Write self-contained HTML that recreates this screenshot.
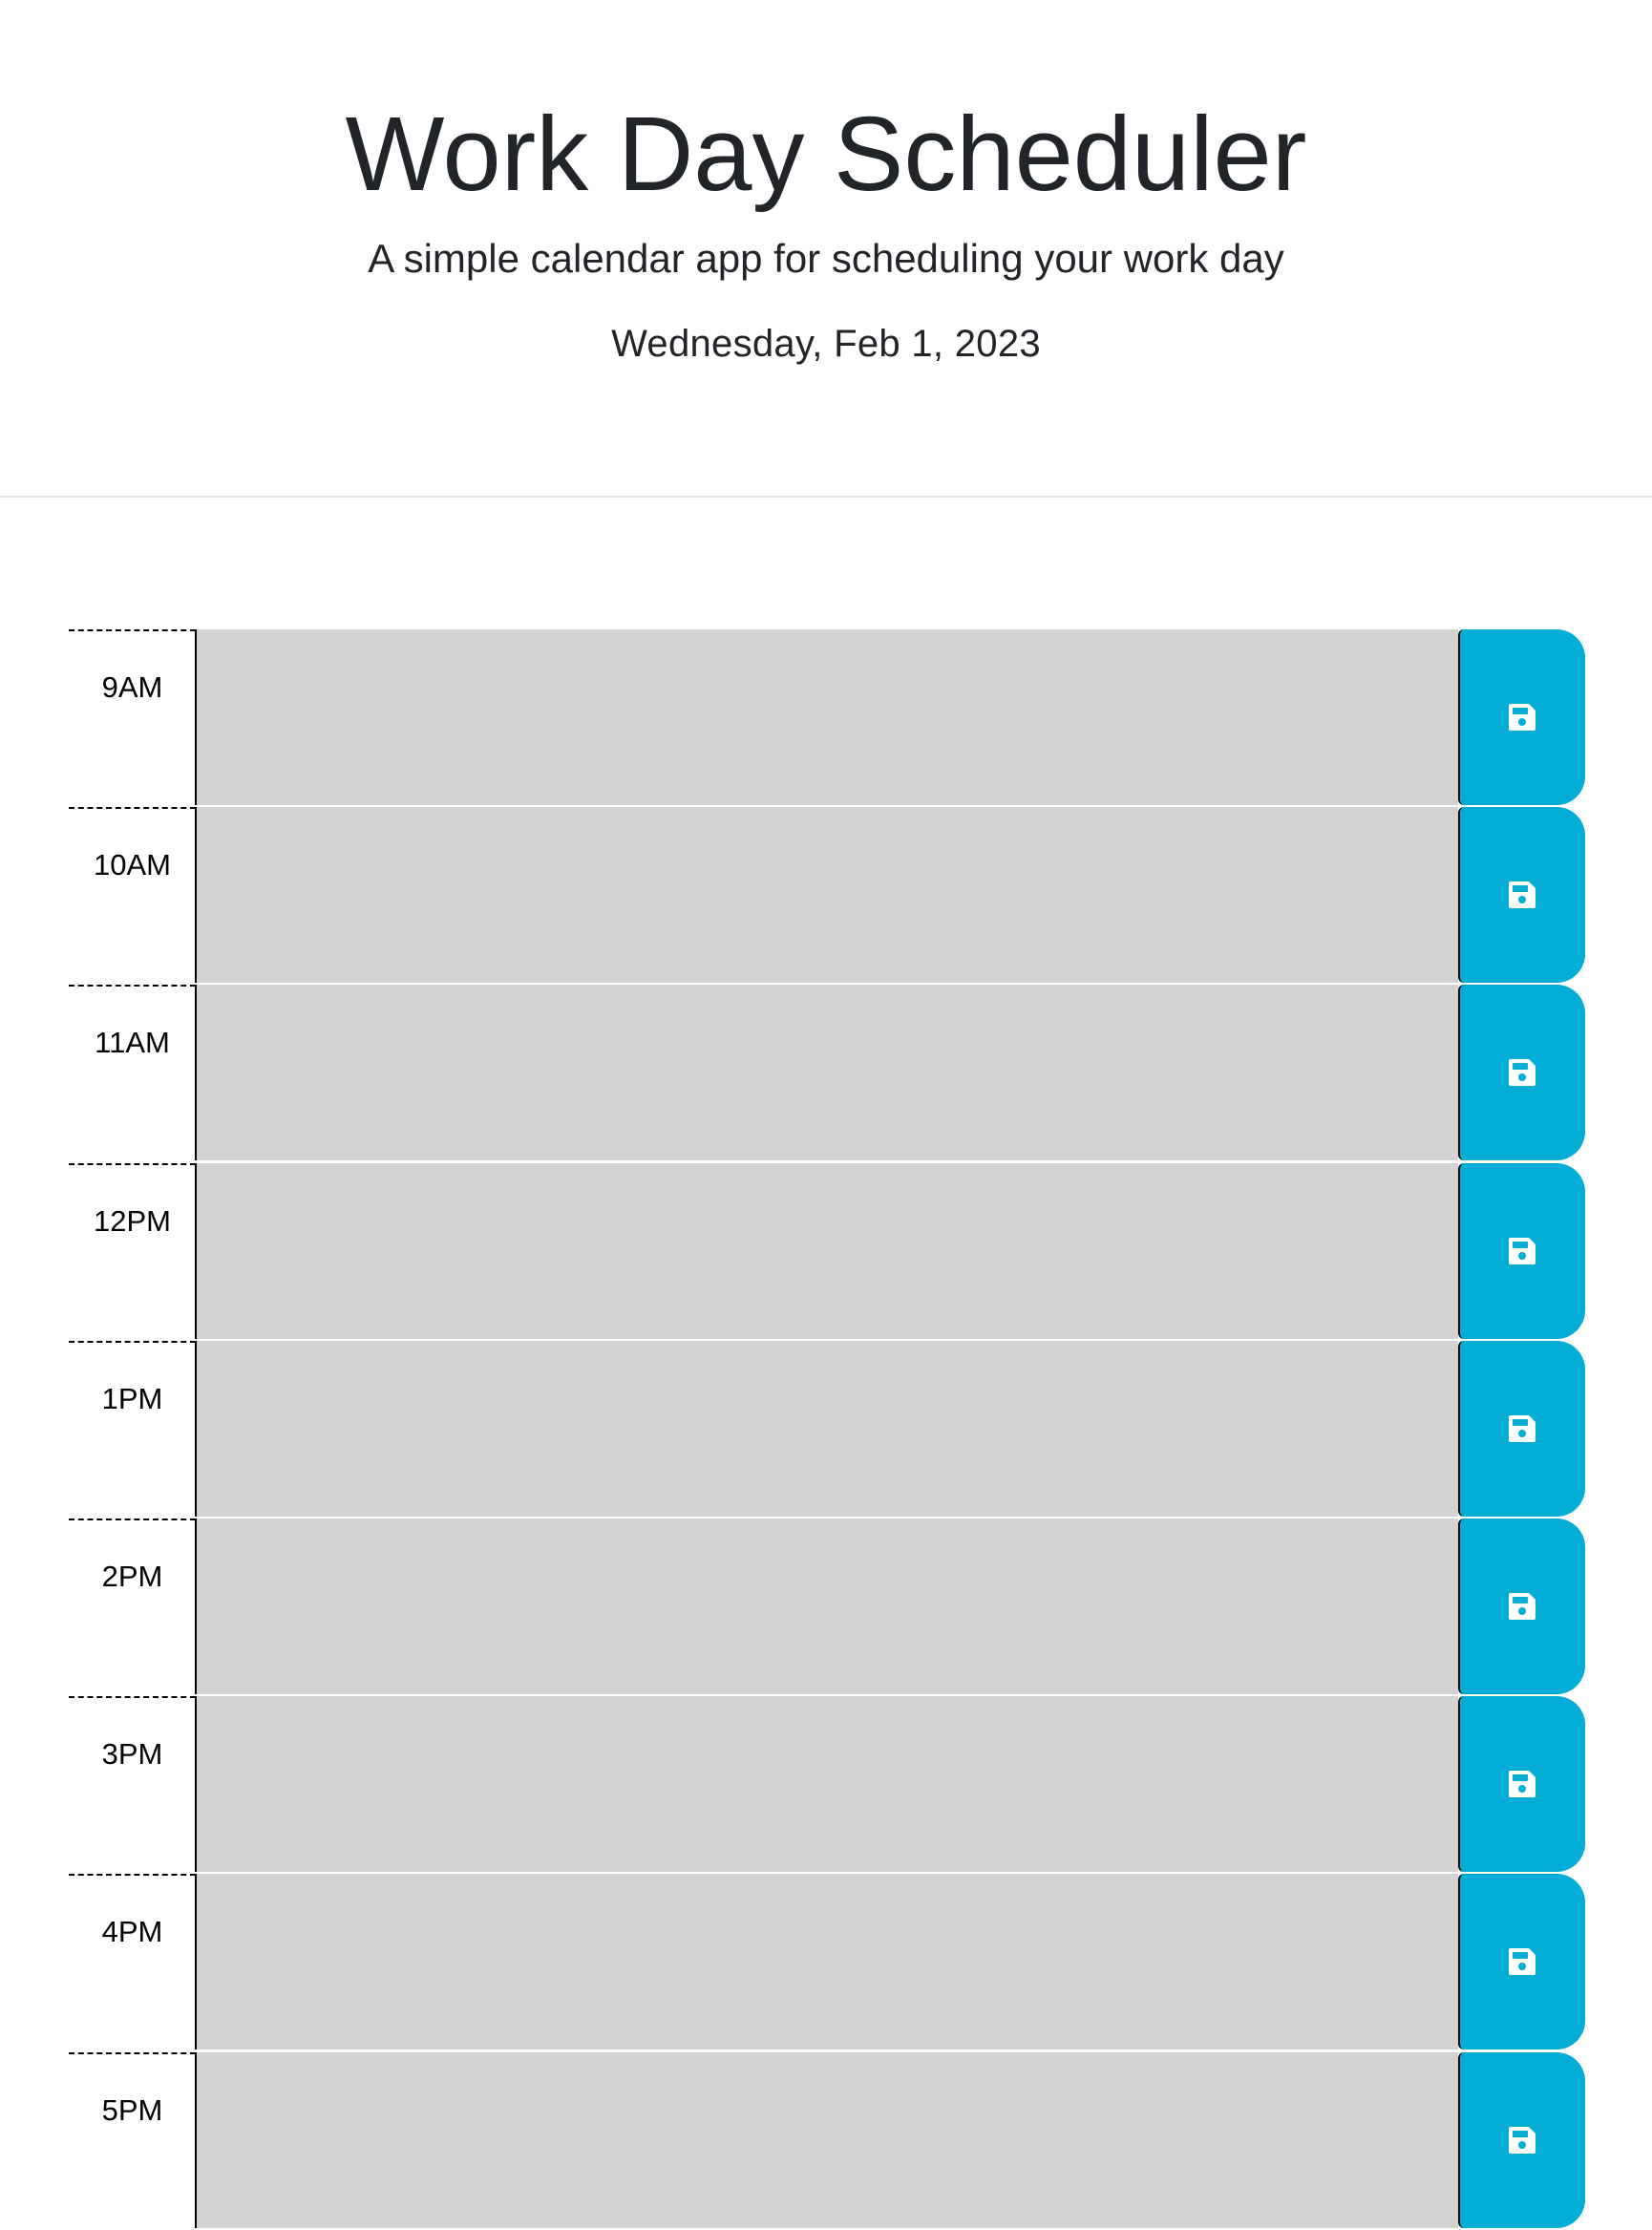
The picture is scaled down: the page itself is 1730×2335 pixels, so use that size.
<!DOCTYPE html>
<html><head><meta charset="utf-8"><style>
body{margin:0;width:1730px;height:2330px;overflow:hidden;background:#fff;font-family:"Liberation Sans",sans-serif;color:#212529;position:relative}
.t{position:absolute;left:0;width:1730px;text-align:center;white-space:nowrap}
.row{position:absolute;left:72px;width:1588px;height:186px}
.hour{position:absolute;left:0;top:0;width:133px;height:186px;border-top:2px dashed #000;box-sizing:border-box;text-align:center;font-size:31px;color:#000;padding-top:41px}
.ta{position:absolute;left:132px;top:0;width:1323px;height:184px;background:#d3d3d3;border-left:2px solid #000;box-sizing:border-box}
.btn{position:absolute;left:1455px;top:0;width:133px;height:184px;background:#04add6;border-left:2px solid #000;box-sizing:border-box;border-radius:6px 30px 30px 6px}
.btn svg{position:absolute;left:51px;top:78px}
</style></head><body>
<div class="t" style="top:97px;font-size:110px;line-height:130px">Work Day Scheduler</div>
<div class="t" style="top:244px;font-size:42px;line-height:54px">A simple calendar app for scheduling your work day</div>
<div class="t" style="top:334px;font-size:40px;line-height:52px;letter-spacing:0.3px">Wednesday, Feb 1, 2023</div>
<div style="position:absolute;left:0;top:519px;width:1730px;height:2px;background:#dee2e6"></div>
<div id="rows"></div>
<script>
const hours=["9AM","10AM","11AM","12PM","1PM","2PM","3PM","4PM","5PM"];
const c=document.getElementById('rows');
hours.forEach((h,i)=>{
 const r=document.createElement('div');r.className='row';r.style.top=(659+i*186.2)+'px';
 
 
 r.innerHTML='<div class="hour">'+h+'</div><textarea class="ta" style="resize:none;outline:none;border-top:0;border-right:0;border-bottom:0"></textarea><div class="btn"><svg width="28" height="28" viewBox="0 0 28 28"><path d="M2 0H21L28 7V26Q28 28 26 28H2Q0 28 0 26V2Q0 0 2 0Z" fill="#fff"/><rect x="4" y="4" width="16" height="7" rx="1" fill="#04add6"/><circle cx="14" cy="19" r="4" fill="#04add6"/></svg></div>';
 c.appendChild(r);
});
</script>
</body></html>
